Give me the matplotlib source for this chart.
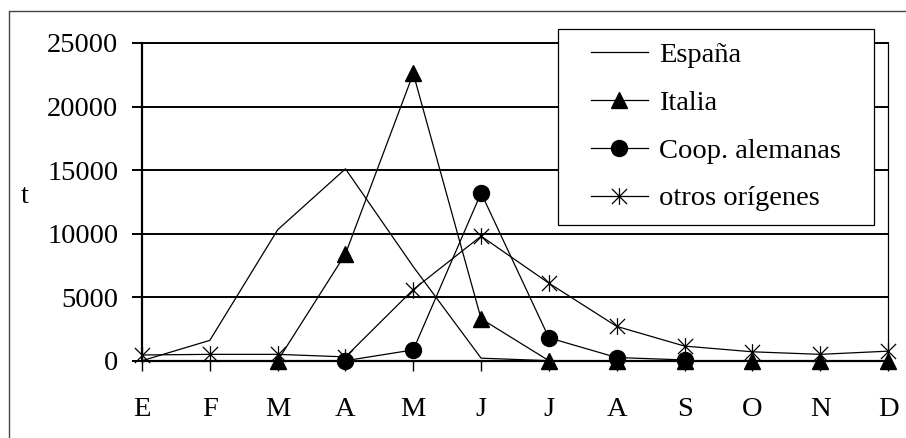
import matplotlib
matplotlib.use('Agg')
import matplotlib.pyplot as plt
from matplotlib.path import Path
from matplotlib.lines import Line2D
from matplotlib.patches import Rectangle
import numpy as np

# datos mensuales (t)
meses = ['E', 'F', 'M', 'A', 'M', 'J', 'J', 'A', 'S', 'O', 'N', 'D']
espana = [0, 1600, 10300, 15100, 7400, 200, 0, 0, 0, 0, 0, 0]
italia = [np.nan, np.nan, 0, 8400, 22600, 3300, 0, 0, 0, 0, 0, 0]
coop = [np.nan, np.nan, np.nan, 0, 850, 13200, 1800, 250, 60, np.nan, np.nan, np.nan]
otros = [450, 500, 500, 300, 5600, 9800, 6100, 2700, 1150, 700, 500, 750]
nombres = ['España', 'Italia', 'Coop. alemanas', 'otros orígenes']
yticks = [0, 5000, 10000, 15000, 20000, 25000]

plt.rcParams['font.family'] = ['Liberation Serif', 'DejaVu Serif']
plt.rcParams['font.size'] = 20.5

# marcador asterisco (X + barra vertical)
ast = Path([(-1, -1), (1, 1), (-1, 1), (1, -1), (0, -1.1), (0, 1.1)],
           [Path.MOVETO, Path.LINETO, Path.MOVETO, Path.LINETO, Path.MOVETO, Path.LINETO])

W, H = 906, 438
fig = plt.figure(figsize=(W / 100, H / 100), dpi=100)
ax = fig.add_axes([142 / W, 1 - 360.7 / H, 746 / W, 317.7 / H])

x = np.arange(len(meses))
estilo = dict(color='black', lw=0.9, clip_on=False)
l1, = ax.plot(x, espana, **estilo, zorder=3)
l2, = ax.plot(x, italia, marker='^', ms=12, **estilo, zorder=4)
l3, = ax.plot(x, coop, marker='o', ms=11.5, **estilo, zorder=4)
l4, = ax.plot(x, otros, marker=ast, ms=12, mew=0.9, mfc='none', **estilo, zorder=5)

ax.set_xlim(0, 11)
ax.set_ylim(0, 25000)
ax.set_xticks(x)
ax.set_xticklabels(meses)
ax.set_yticks(yticks)
ax.yaxis.grid(True, color='black', lw=1.4)
ax.set_axisbelow(True)
ax.tick_params(axis='x', length=7, width=1, direction='out', pad=19)
ax.tick_params(axis='y', length=7, width=1.4, direction='out', pad=10)

for s in ['left', 'bottom']:
    ax.spines[s].set_linewidth(1.6)
ax.spines['top'].set_linewidth(1.4)
ax.spines['right'].set_linewidth(0.9)
ax.spines['bottom'].set_zorder(2)

ax.set_ylabel('t', rotation=0, ha='center', va='center')
ax.yaxis.set_label_coords((25 - 142) / 746, (360.7 - 196) / 317.7)

# caja de leyenda
fig.add_artist(Rectangle((558 / W, 1 - 225 / H), 316 / W, 196 / H,
                         transform=fig.transFigure, facecolor='white',
                         edgecolor='black', lw=0.9, zorder=2))
fig.legend([l1, l2, l3, l4], nombres, loc='upper left',
           bbox_to_anchor=(591 / W, 1 - 42 / H), frameon=False, borderpad=0,
           borderaxespad=0, handlelength=2.0, handletextpad=0.4, labelspacing=0.77)

# marco exterior
fig.add_artist(Line2D([9 / W, 9 / W, 1], [0, 1 - 11 / H, 1 - 11 / H],
                      transform=fig.transFigure, color='#444444', lw=1))

fig.savefig('out.png', dpi=100)
